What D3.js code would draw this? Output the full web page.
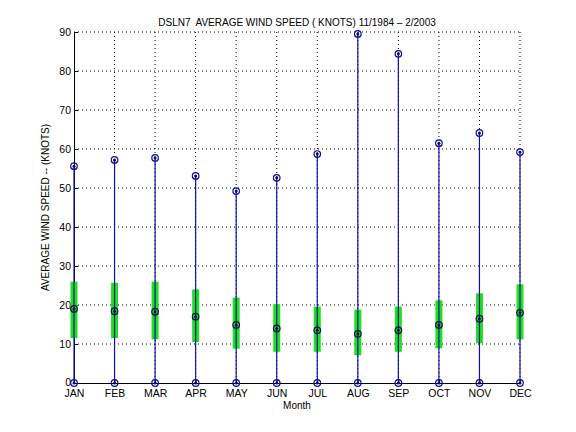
<!DOCTYPE html>
<html>
<head>
<meta charset="utf-8">
<script src="https://cdn.jsdelivr.net/npm/d3@7"></script>
<style>
	body { margin: 0; background: #fff; }
	svg text { font-family: "Liberation Sans", Arial, Helvetica, sans-serif; fill: #000; }
</style>
</head>
<body>
<div id="chart"></div>
<script>

//Month labels along the x axis
var months = ["JAN","FEB","MAR","APR","MAY","JUN","JUL","AUG","SEP","OCT","NOV","DEC"];
//Monthly wind speed statistics (knots)
var maxSpeed  = [55.6, 57.2, 57.7, 53.1, 49.2, 52.6, 58.7, 89.5, 84.4, 61.5, 64.1, 59.2];
var meanSpeed = [19.0, 18.4, 18.3, 17.0, 14.9, 14.0, 13.5, 12.6, 13.5, 14.9, 16.5, 18.0];
var bandHigh  = [26.0, 25.7, 26.0, 24.0, 21.9, 20.2, 19.6, 18.8, 19.6, 21.2, 23.0, 25.3];
var bandLow   = [11.5, 11.5, 11.2, 10.5, 8.8, 8.0, 8.0, 7.1, 8.0, 8.9, 10.2, 11.2];
var minSpeed  = [0, 0, 0, 0, 0, 0, 0, 0, 0, 0, 0, 0];
var yTicks    = [0, 10, 20, 30, 40, 50, 60, 70, 80, 90];

///////////////////////////////////////////////////////////////////////////
//////////////////// Set up and initiate svg containers ///////////////////
///////////////////////////////////////////////////////////////////////////

var W = 576, H = 432;
var margin = { top: 32, right: 56, bottom: 49, left: 74 };
var width = W - margin.left - margin.right;
var height = H - margin.top - margin.bottom;

var svg = d3.select("#chart").append("svg")
	.attr("width", W)
	.attr("height", H)
	.append("g")
	.attr("transform", "translate(" + margin.left + "," + margin.top + ")");

var data = months.map(function(m, i) {
	return { m: m, i: i + 1, max: maxSpeed[i], mean: meanSpeed[i], hi: bandHigh[i], lo: bandLow[i], min: minSpeed[i] };
});

var x = d3.scaleLinear().domain([1, 12]).range([0, width]);
var y = d3.scaleLinear().domain([0, 90]).range([height, 0]);

///////////////////////////////////////////////////////////////////////////
///////////////////////////////// Grid //////////////////////////////////
///////////////////////////////////////////////////////////////////////////

svg.append("g").selectAll("line")
	.data(yTicks.slice(1))
	.enter().append("line")
	.attr("x1", 0).attr("x2", width)
	.attr("y1", function(d) { return y(d); })
	.attr("y2", function(d) { return y(d); })
	.style("stroke", "#000")
	.style("stroke-width", 1)
	.style("stroke-dasharray", "1,3");

svg.append("g").selectAll("line")
	.data(d3.range(2, 13))
	.enter().append("line")
	.attr("x1", function(d) { return x(d); })
	.attr("x2", function(d) { return x(d); })
	.attr("y1", 0).attr("y2", height)
	.style("stroke", "#000")
	.style("stroke-width", 1)
	.style("stroke-dasharray", "1,3");

///////////////////////////////////////////////////////////////////////////
//////////////////////////////// Axes ////////////////////////////////////
///////////////////////////////////////////////////////////////////////////

var yAxis = svg.append("g")
	.call(d3.axisLeft(y).tickValues(yTicks).tickSizeInner(-4).tickSizeOuter(0).tickPadding(3));
var xAxis = svg.append("g")
	.attr("transform", "translate(0," + height + ")")
	.call(d3.axisBottom(x).tickValues(d3.range(1, 13)).tickSizeInner(-4).tickSizeOuter(0).tickPadding(7)
		.tickFormat(function(d) { return months[d - 1]; }));

[yAxis, xAxis].forEach(function(a) {
	a.select(".domain").style("stroke", "#000");
	a.selectAll(".tick line").style("stroke", "#000");
	a.selectAll("text").style("font-size", "10.5px").style("font-family", "'Liberation Sans', Arial, sans-serif");
});

//Lift the "0" label a touch so it sits clear of JAN
yAxis.selectAll(".tick text").filter(function(d) { return d === 0; }).attr("dy", "0.2em");

///////////////////////////////////////////////////////////////////////////
//////////////////////////////// Marks ///////////////////////////////////
///////////////////////////////////////////////////////////////////////////

//Green band (mean +- spread)
svg.append("g").selectAll("line")
	.data(data)
	.enter().append("line")
	.attr("x1", function(d) { return x(d.i); })
	.attr("x2", function(d) { return x(d.i); })
	.attr("y1", function(d) { return y(d.lo); })
	.attr("y2", function(d) { return y(d.hi); })
	.style("stroke", "#1ee01e")
	.style("stroke-width", 7);

//Blue range line min -> max
svg.append("g").selectAll("line")
	.data(data)
	.enter().append("line")
	.attr("x1", function(d) { return x(d.i); })
	.attr("x2", function(d) { return x(d.i); })
	.attr("y1", function(d) { return y(d.min); })
	.attr("y2", function(d) { return y(d.max); })
	.style("stroke", "#1010a8")
	.style("stroke-width", 1.2);

//Markers at min, mean and max
var pts = [];
data.forEach(function(d) {
	pts.push({ i: d.i, v: d.min, c: "#1010a8" });
	pts.push({ i: d.i, v: d.mean, c: "#101050" });
	pts.push({ i: d.i, v: d.max, c: "#1010a8" });
});

var mk = svg.append("g").selectAll("g")
	.data(pts)
	.enter().append("g")
	.attr("transform", function(d) { return "translate(" + x(d.i) + "," + y(d.v) + ")"; });

mk.append("circle")
	.attr("r", 3.3)
	.style("fill", "none")
	.style("stroke", function(d) { return d.c; })
	.style("stroke-width", 1.2);

mk.append("circle")
	.attr("r", 1.5)
	.style("fill", "#101030");

///////////////////////////////////////////////////////////////////////////
//////////////////////////////// Labels //////////////////////////////////
///////////////////////////////////////////////////////////////////////////

svg.append("text")
	.attr("x", width / 2)
	.attr("y", -6)
	.attr("text-anchor", "middle")
	.style("font-size", "10px")
	.style("white-space", "pre")
	.text("DSLN7  AVERAGE WIND SPEED ( KNOTS) 11/1984 \u2013 2/2003");

svg.append("text")
	.attr("x", width / 2)
	.attr("y", height + 26)
	.attr("text-anchor", "middle")
	.style("font-size", "10px")
	.text("Month");

svg.append("text")
	.attr("transform", "translate(-25," + (height / 2) + ") rotate(-90)")
	.attr("text-anchor", "middle")
	.style("font-size", "10px")
	.text("AVERAGE WIND SPEED -- (KNOTS)");

</script>
</body>
</html>
